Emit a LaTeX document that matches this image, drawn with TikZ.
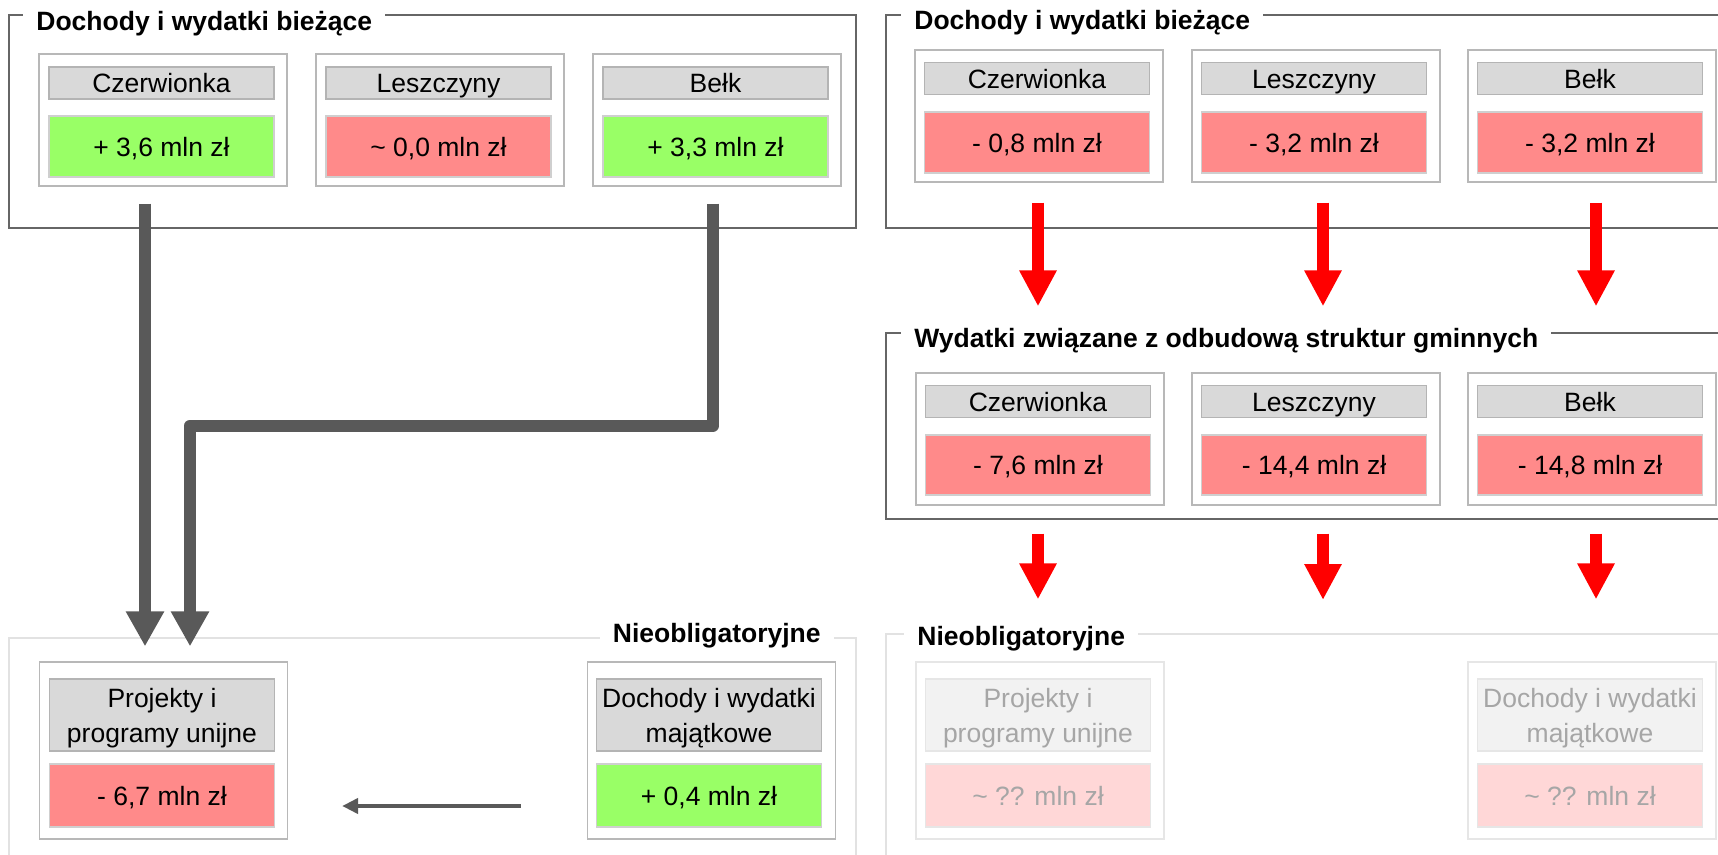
\documentclass[tikz,border=0pt]{standalone}
\usepackage{fontspec}
\setmainfont{Liberation Sans}
\usetikzlibrary{arrows.meta}
\definecolor{hdrfill}{HTML}{D9D9D9}
\definecolor{hdrline}{HTML}{B4B4B4}
\definecolor{cellline}{HTML}{B8B8B8}
\definecolor{posfill}{HTML}{99FF66}
\definecolor{negfill}{HTML}{FF8A8A}
\definecolor{valline}{HTML}{CFCFCF}
\definecolor{frameline}{HTML}{666666}
\definecolor{lightframe}{HTML}{E2E2E2}
\definecolor{fadeline}{HTML}{E6E6E6}
\definecolor{fadehdr}{HTML}{F2F2F2}
\definecolor{fadeneg}{HTML}{FFD7D7}
\definecolor{fadetext}{HTML}{A6A6A6}
\definecolor{arrowgray}{HTML}{595959}
\definecolor{arrowred}{HTML}{FF0000}
\begin{document}
\begin{tikzpicture}[x=0.5pt,y=-0.5pt,
  txt/.style={font=\fontsize{13.25}{17.25}\selectfont, text height=9.75pt, text depth=0pt},
  ttl/.style={font=\bfseries\fontsize{13.25}{17.5}\selectfont, fill=white, inner xsep=6.5pt, inner ysep=1pt},
  frame/.style={draw=frameline, line width=0.6pt},
  lframe/.style={draw=lightframe, line width=0.9pt},
  cell/.style={draw=cellline, line width=0.6pt, fill=white, minimum width=124pt, minimum height=66pt, inner sep=0pt},
  tallcell/.style={cell, minimum height=88.5pt},
  hdr/.style={txt, draw=hdrline, line width=0.6pt, fill=hdrfill, minimum width=112.5pt, minimum height=16pt, inner sep=0pt, align=center},
  tallhdr/.style={hdr, minimum height=36pt, text height=27pt, text depth=0pt},
  posval/.style={txt, draw=valline, line width=0.6pt, fill=posfill, minimum width=112.5pt, minimum height=30.5pt, inner sep=0pt, yshift=-0.5pt},
  negval/.style={posval, fill=negfill},
  fcell/.style={tallcell, draw=fadeline},
  fhdr/.style={tallhdr, draw=fadeline, fill=fadehdr, text=fadetext},
  fneg/.style={posval, draw=fadeline, fill=fadeneg, text=fadetext, minimum height=31.5pt},
  grayarrow/.style={draw=arrowgray, line width=6pt, line join=round, -{Triangle[width=18pt,length=17.5pt]}},
  redarrow/.style={draw=arrowred, line width=6pt, -{Triangle[width=17.5pt,length=18pt]}},
  thinarrow/.style={draw=arrowgray, line width=2pt, -{Triangle[width=7.5pt,length=8pt]}}
]
\useasboundingbox (0,0) rectangle (1718,855);
\clip (0,0) rectangle (1718,855);

% ---------- frames ----------
\draw[frame] (9,15) rectangle (856,228);
\node[ttl, anchor=base west] (TLt) at (23,30.5) {Dochody i wydatki bieżące};

\draw[frame] (886,15) rectangle (1730,228);
\node[ttl, anchor=base west] (TRt) at (901,30) {Dochody i wydatki bieżące};

\draw[frame] (886,333) rectangle (1730,519);
\node[ttl, anchor=base west] (Mt) at (901,348) {Wydatki związane z odbudową struktur gminnych};

\draw[lframe] (9,870) -- (9,638) -- (856,638) -- (856,870);
\node[ttl, anchor=base east] (BLt) at (834,642.5) {Nieobligatoryjne};

\draw[lframe] (886,870) -- (886,634) -- (1730,634);
\node[ttl, anchor=base west] (BRt) at (904,645) {Nieobligatoryjne};

% ---------- top left ----------
\node[cell] (TL1) at (163,120) {};
\node[hdr] (TL1h) at (161.5,83) {Czerwionka};
\node[posval] (TL1v) at (161.5,145.5) {+ 3,6 mln zł};
\node[cell] (TL2) at (440,120) {};
\node[hdr] (TL2h) at (438.5,83) {Leszczyny};
\node[negval] (TL2v) at (438.5,145.5) {\textasciitilde{} 0,0 mln zł};
\node[cell] (TL3) at (717,120) {};
\node[hdr] (TL3h) at (715.5,83) {Bełk};
\node[posval] (TL3v) at (715.5,145.5) {+ 3,3 mln zł};

% ---------- top right ----------
\node[cell] (TR1) at (1039,116) {};
\node[hdr] (TR1h) at (1037,78.5) {Czerwionka};
\node[negval] (TR1v) at (1037,141.5) {- 0,8 mln zł};
\node[cell] (TR2) at (1316,116) {};
\node[hdr] (TR2h) at (1314,78.5) {Leszczyny};
\node[negval] (TR2v) at (1314,141.5) {- 3,2 mln zł};
\node[cell] (TR3) at (1592,116) {};
\node[hdr] (TR3h) at (1590,78.5) {Bełk};
\node[negval] (TR3v) at (1590,141.5) {- 3,2 mln zł};

% ---------- middle right ----------
\node[cell] (M1) at (1040,439) {};
\node[hdr] (M1h) at (1038,401.5) {Czerwionka};
\node[negval, minimum height=30pt] (M1v) at (1038,464) {- 7,6 mln zł};
\node[cell] (M2) at (1316,439) {};
\node[hdr] (M2h) at (1314,401.5) {Leszczyny};
\node[negval, minimum height=30pt] (M2v) at (1314,464) {- 14,4 mln zł};
\node[cell] (M3) at (1592,439) {};
\node[hdr] (M3h) at (1590,401.5) {Bełk};
\node[negval, minimum height=30pt] (M3v) at (1590,464) {- 14,8 mln zł};

% ---------- bottom left ----------
\node[tallcell] (BL1) at (163.5,750.5) {};
\node[tallhdr] (BL1h) at (162,715) {Projekty i\\programy unijne};
\node[negval, minimum height=31.5pt] (BL1v) at (162,794.5) {- 6,7 mln zł};
\node[tallcell] (BL2) at (711.5,750.5) {};
\node[tallhdr] (BL2h) at (709,715) {Dochody i wydatki\\majątkowe};
\node[posval, minimum height=31.5pt] (BL2v) at (709,794.5) {+ 0,4 mln zł};

% ---------- bottom right (faded) ----------
\node[fcell] (BR1) at (1040,750.5) {};
\node[fhdr] (BR1h) at (1038,715) {Projekty i\\programy unijne};
\node[fneg] (BR1v) at (1038,794.5) {\textasciitilde{} ?? mln zł};
\node[fcell] (BR2) at (1592,750.5) {};
\node[fhdr] (BR2h) at (1590,715) {Dochody i wydatki\\majątkowe};
\node[fneg] (BR2v) at (1590,794.5) {\textasciitilde{} ?? mln zł};

\coordinate (BRgap) at (1323,662);

% ---------- connectors ----------
\draw[grayarrow, shorten <=8.5pt, shorten >=7.5pt]
  ([xshift=-9pt]TL1.south) -- ([xshift=-9.25pt]BL1.north);
\draw[grayarrow, shorten <=8.5pt, shorten >=7.5pt]
  ([xshift=-2pt]TL3.south) -- ++(0,239) -| ([xshift=13.25pt]BL1.north);

\draw[redarrow, shorten <=10pt, shorten >=33pt]
  ([xshift=-0.5pt]TR1.south) -- ([xshift=-1pt]M1.north);
\draw[redarrow, shorten <=10pt, shorten >=33pt]
  ([xshift=3.5pt]TR2.south) -- ([xshift=3.5pt]M2.north);
\draw[redarrow, shorten <=10pt, shorten >=33pt]
  ([xshift=2pt]TR3.south) -- ([xshift=2pt]M3.north);

\draw[redarrow, shorten <=14pt, shorten >=31pt]
  ([xshift=-1pt]M1.south) -- ([xshift=-1pt]BR1.north);
\draw[redarrow, shorten <=14pt, shorten >=31pt]
  ([xshift=3.5pt]M2.south) -- (BRgap);
\draw[redarrow, shorten <=14pt, shorten >=31pt]
  ([xshift=2pt]M3.south) -- ([xshift=2pt]BR2.north);

\draw[thinarrow, shorten <=33pt, shorten >=27pt]
  ([yshift=-27.75pt]BL2.west) -- ([yshift=-27.75pt]BL1.east);
\end{tikzpicture}
\end{document}
